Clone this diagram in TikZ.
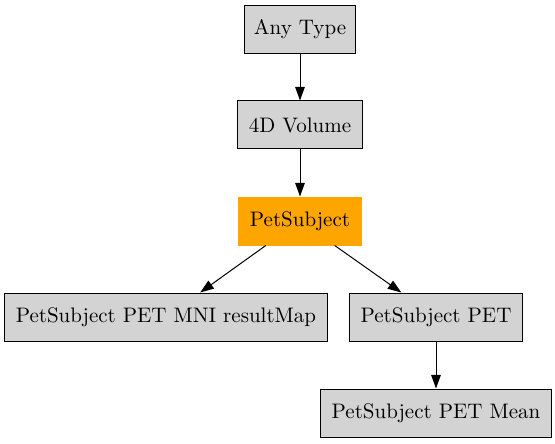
\documentclass[tikz,border=0pt]{standalone}
\usepackage{xcolor}
\usepackage{tikz}
\usetikzlibrary{arrows.meta}

\definecolor{boxgray}{HTML}{D3D3D3}
\definecolor{hitorange}{HTML}{FFA500}

\begin{document}
\begin{tikzpicture}[x=0.5pt,y=-0.5pt,font=\fontsize{10.5}{12.5}\selectfont,
  box/.style={draw=black,fill=boxgray,line width=0.5pt,minimum height=24pt,inner xsep=5.5pt},
  hit/.style={box,draw=hitorange,fill=hitorange},
  edge/.style={line width=0.5pt,-{Triangle[length=6.8pt,width=4.8pt]}}]
  \useasboundingbox (0,0) rectangle (555,443);
  % type nodes
  \node[box,inner xsep=4.5pt] (anytype) at (300,29.5) {Any Type};
  \node[box] (vol)     at (300,125) {4D Volume};
  \node[hit] (petsubj) at (300,221) {PetSubject};
  \node[box] (mnimap)  at (166,317) {PetSubject PET MNI resultMap};
  \node[box] (pet)     at (436,317) {PetSubject PET};
  \node[box] (petmean) at (436,413) {PetSubject PET Mean};
  % edges
  \draw[edge] (anytype) -- (vol);
  \draw[edge] (vol) -- (petsubj);
  \draw[edge] (petsubj) -- (mnimap);
  \draw[edge] (petsubj) -- (pet);
  \draw[edge] (pet) -- (petmean);
\end{tikzpicture}
\end{document}
